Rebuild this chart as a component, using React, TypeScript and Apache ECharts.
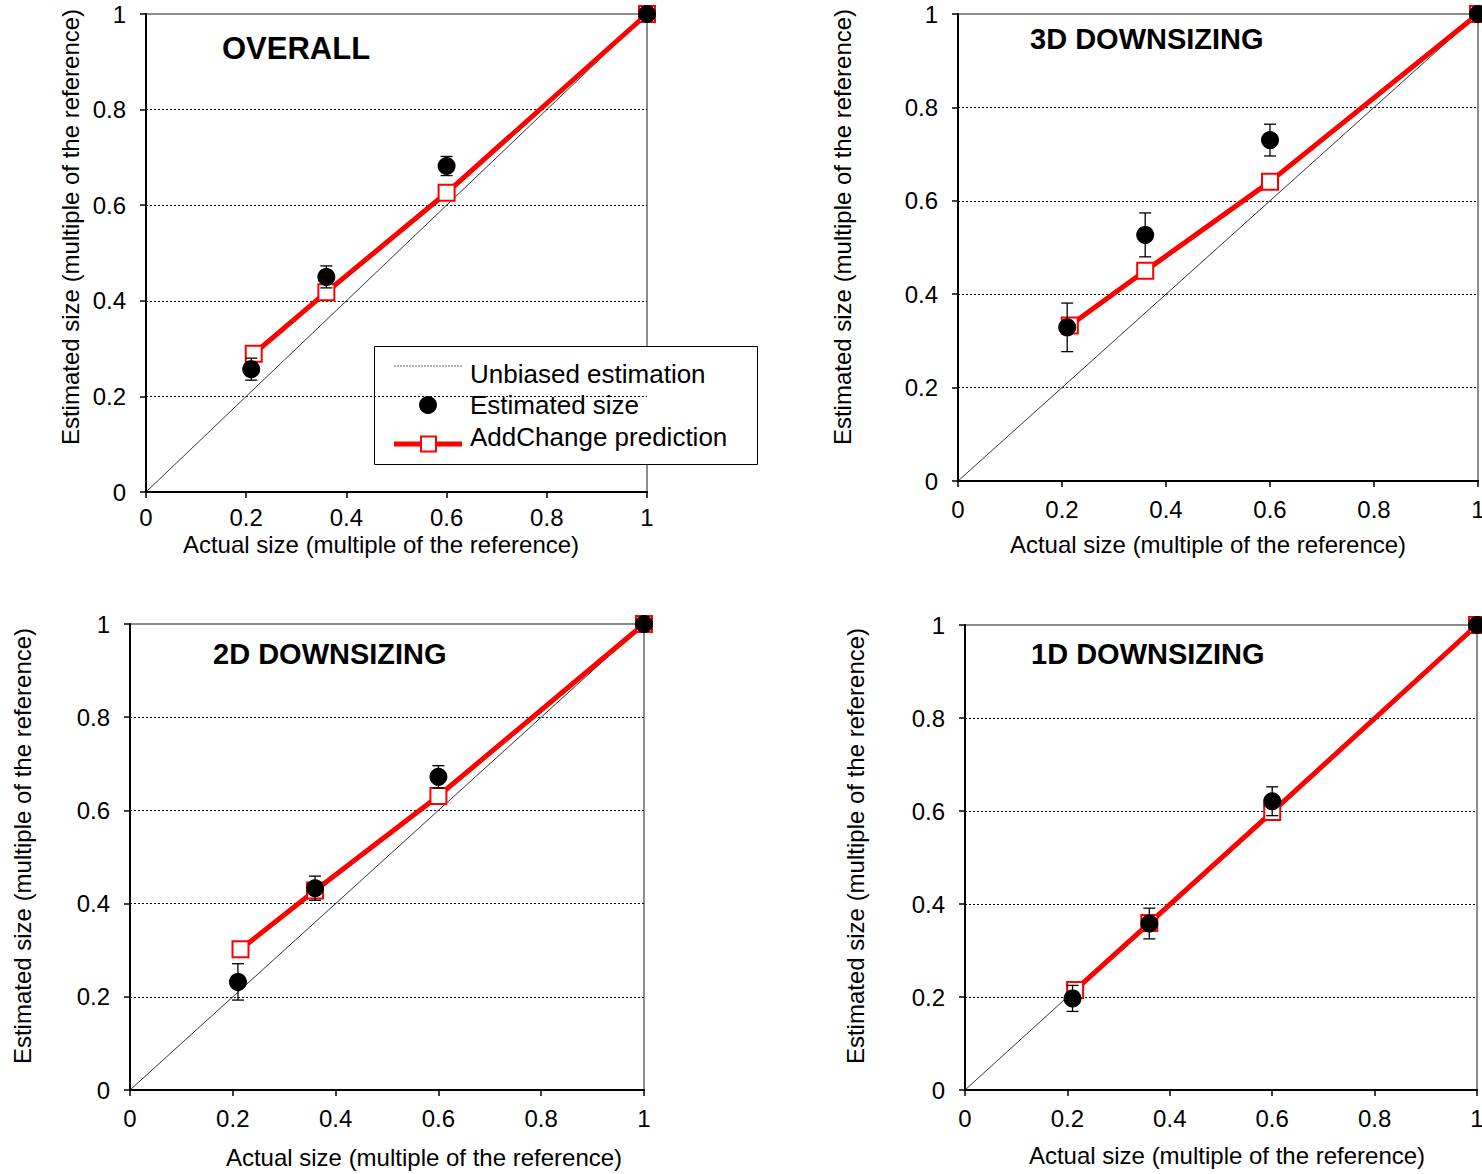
import React, { useEffect, useRef } from "react";
import * as echarts from "echarts";

// ---- Data ----
const panelTitles = ["OVERALL", "3D DOWNSIZING", "2D DOWNSIZING", "1D DOWNSIZING"];
const dotX = [0.21, 0.36, 0.6, 1.0];
const predX = [0.215, 0.36, 0.6, 1.0];

const estOverall = [0.257, 0.45, 0.682, 1.0];
const errOverall = [0.023, 0.023, 0.02, 0];
const predOverall = [0.289, 0.418, 0.626, 1.0];

const est3D = [0.329, 0.527, 0.73, 1.0];
const err3D = [0.052, 0.047, 0.034, 0];
const pred3D = [0.333, 0.45, 0.641, 1.0];

const est2D = [0.232, 0.433, 0.672, 1.0];
const err2D = [0.039, 0.026, 0.024, 0];
const pred2D = [0.302, 0.428, 0.631, 1.0];

const est1D = [0.197, 0.358, 0.621, 1.0];
const err1D = [0.028, 0.033, 0.031, 0];
const pred1D = [0.215, 0.359, 0.598, 1.0];

const unbiased = [
  [0, 0],
  [1, 1],
];

const xAxisName = "Actual size (multiple of the reference)";
const yAxisName = "Estimated size (multiple of the reference)";
const legendNames = ["Unbiased estimation", "Estimated size", "AddChange prediction"];

const estAll = [estOverall, est3D, est2D, est1D];
const errAll = [errOverall, err3D, err2D, err1D];
const predAll = [predOverall, pred3D, pred2D, pred1D];

// ---- Layout ----
const FONT = "'Liberation Sans', Arial, sans-serif";
const GRIDS = [
  { left: 146, top: 14, width: 501, height: 478 },
  { left: 958, top: 14, width: 520, height: 467 },
  { left: 130, top: 624, width: 514, height: 466 },
  { left: 965, top: 625, width: 512, height: 465 },
];
const XLABEL_MARGIN = [13, 16, 16, 16];
const TITLE_POS = [
  { x: 222, y: 48, size: 31 },
  { x: 1030, y: 39, size: 29 },
  { x: 213, y: 654, size: 29 },
  { x: 1031, y: 654, size: 29 },
];
const XNAME_POS = [
  { x: 381, y: 544 },
  { x: 1208, y: 544 },
  { x: 424, y: 1157 },
  { x: 1227, y: 1155 },
];
const YNAME_POS = [
  { x: 70, y: 227 },
  { x: 842, y: 227 },
  { x: 22, y: 846 },
  { x: 855, y: 846 },
];

const fmt = (v: number) => String(Math.round(v * 10) / 10);

export default function App() {
  const ref = useRef<HTMLDivElement>(null);

  useEffect(() => {
    if (!ref.current) return;
    const chart = echarts.init(ref.current, null, { renderer: "svg" });

    const grid = GRIDS.map((g) => ({
      ...g,
      show: true,
      borderColor: "#8c8c8c",
      borderWidth: 2,
      backgroundColor: "transparent",
      containLabel: false,
      outerBoundsMode: "none",
    }));

    const xAxis = GRIDS.map((_, i) => ({
      type: "value",
      gridIndex: i,
      min: 0,
      max: 1,
      interval: 0.2,
      axisLine: { show: true, onZero: false, lineStyle: { color: "#000", width: 2 } },
      axisTick: { show: true, length: 6, lineStyle: { color: "#000", width: 1.5 } },
      axisLabel: {
        fontSize: 24,
        fontFamily: FONT,
        color: "#000",
        margin: XLABEL_MARGIN[i],
        formatter: fmt,
      },
      splitLine: { show: false },
    }));

    const yAxis = GRIDS.map((_, i) => ({
      type: "value",
      gridIndex: i,
      min: 0,
      max: 1,
      interval: 0.2,
      axisLine: { show: true, onZero: false, lineStyle: { color: "#000", width: 2 } },
      axisTick: { show: true, length: 6, lineStyle: { color: "#000", width: 1.5 } },
      axisLabel: { fontSize: 24, fontFamily: FONT, color: "#000", margin: 20, formatter: fmt },
      splitLine: {
        show: true,
        showMaxLine: false,
        showMinLine: false,
        lineStyle: { color: "#000", width: 1, type: [2, 2] },
      },
    }));

    const series: any[] = [];
    GRIDS.forEach((_, i) => {
      series.push({
        type: "line",
        xAxisIndex: i,
        yAxisIndex: i,
        data: unbiased,
        symbol: "none",
        lineStyle: { color: "#000", width: 0.8 },
        silent: true,
        z: 2,
      });
      series.push({
        type: "line",
        xAxisIndex: i,
        yAxisIndex: i,
        data: predX.map((x, k) => [x, predAll[i][k]]),
        symbol: "rect",
        symbolSize: 16,
        showAllSymbol: true,
        clip: false,
        lineStyle: { color: "#ff0000", width: 5 },
        itemStyle: { color: "#ffffff", borderColor: "#ff0000", borderWidth: 2, opacity: 1 },
        z: 3,
      });
      series.push({
        type: "custom",
        xAxisIndex: i,
        yAxisIndex: i,
        clip: false,
        encode: { x: 0, y: [1, 2] },
        data: dotX
          .map((x, k) => [x, estAll[i][k] - errAll[i][k], estAll[i][k] + errAll[i][k]])
          .filter((d) => d[2] - d[1] > 0),
        renderItem: (params: any, api: any) => {
          const x = api.value(0);
          const p1 = api.coord([x, api.value(1)]);
          const p2 = api.coord([x, api.value(2)]);
          const hw = 6;
          const st = { stroke: "#000", lineWidth: 1.3 };
          return {
            type: "group",
            children: [
              { type: "line", shape: { x1: p1[0], y1: p1[1], x2: p2[0], y2: p2[1] }, style: st },
              { type: "line", shape: { x1: p1[0] - hw, y1: p1[1], x2: p1[0] + hw, y2: p1[1] }, style: st },
              { type: "line", shape: { x1: p2[0] - hw, y1: p2[1], x2: p2[0] + hw, y2: p2[1] }, style: st },
            ],
          };
        },
        z: 4,
      });
      series.push({
        type: "scatter",
        xAxisIndex: i,
        yAxisIndex: i,
        data: dotX.map((x, k) => [x, estAll[i][k]]),
        symbol: "circle",
        symbolSize: 18,
        clip: false,
        itemStyle: { color: "#000", opacity: 1 },
        z: 5,
      });
    });

    const graphic: any[] = [];
    GRIDS.forEach((_, i) => {
      graphic.push({
        type: "text",
        x: TITLE_POS[i].x,
        y: TITLE_POS[i].y,
        z: 10,
        style: {
          text: panelTitles[i],
          font: `bold ${TITLE_POS[i].size}px ${FONT}`,
          fill: "#000",
          align: "left",
          verticalAlign: "middle",
        },
      });
      graphic.push({
        type: "text",
        x: XNAME_POS[i].x,
        y: XNAME_POS[i].y,
        style: {
          text: xAxisName,
          font: `24px ${FONT}`,
          fill: "#000",
          align: "center",
          verticalAlign: "middle",
        },
      });
      graphic.push({
        type: "text",
        x: YNAME_POS[i].x,
        y: YNAME_POS[i].y,
        rotation: Math.PI / 2,
        style: {
          text: yAxisName,
          font: `24px ${FONT}`,
          fill: "#000",
          align: "center",
          verticalAlign: "middle",
        },
      });
    });

    // Legend (panel 1)
    graphic.push({
      type: "group",
      z: 20,
      children: [
        {
          type: "rect",
          shape: { x: 374.5, y: 346.5, width: 383, height: 118 },
          style: { fill: "#fff", stroke: "#000", lineWidth: 1 },
        },
        {
          type: "line",
          shape: { x1: 394, y1: 366, x2: 462, y2: 366 },
          style: { stroke: "#666", lineWidth: 1, lineDash: [2, 1] },
        },
        { type: "circle", shape: { cx: 428, cy: 405, r: 9 }, style: { fill: "#000" } },
        {
          type: "line",
          shape: { x1: 394, y1: 444, x2: 462, y2: 444 },
          style: { stroke: "#ff0000", lineWidth: 5 },
        },
        {
          type: "rect",
          shape: { x: 421, y: 436.5, width: 15, height: 15 },
          style: { fill: "#fff", stroke: "#ff0000", lineWidth: 2 },
        },
        ...legendNames.map((t, k) => ({
          type: "text",
          x: 470,
          y: [374, 405, 437][k],
          style: {
            text: t,
            font: `26px ${FONT}`,
            fill: "#000",
            align: "left",
            verticalAlign: "middle",
          },
        })),
      ],
    });

    chart.setOption({
      animation: false,
      backgroundColor: "#fff",
      grid,
      xAxis,
      yAxis,
      series,
      graphic,
    });

    return () => chart.dispose();
  }, []);

  return (
    <div
      ref={ref}
      style={{ position: "absolute", left: 0, top: 0, width: 1482, height: 1174 }}
    />
  );
}
